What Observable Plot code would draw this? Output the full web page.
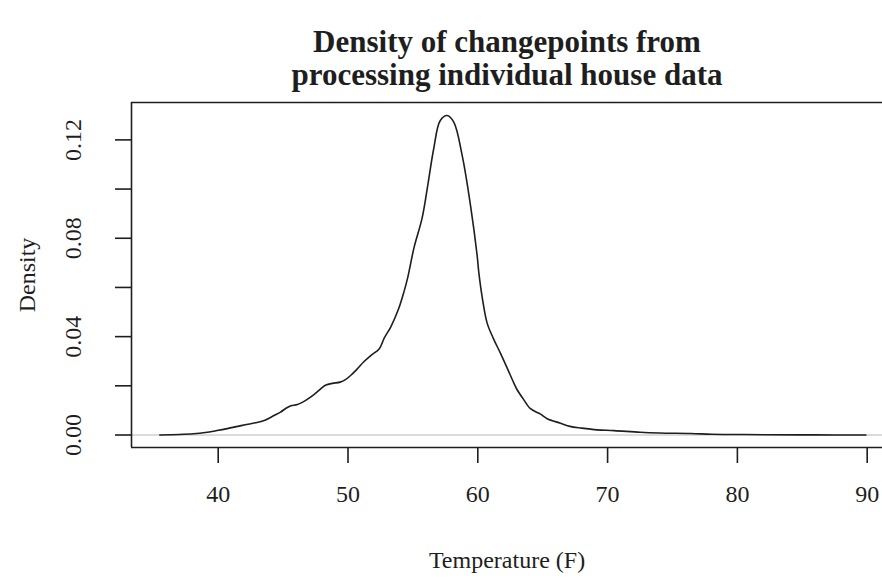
<!DOCTYPE html>
<html>
<head>
<meta charset="utf-8">
<script src="https://cdn.jsdelivr.net/npm/d3@7"></script>
<script src="https://cdn.jsdelivr.net/npm/@observablehq/plot@0.6"></script>
<style>
  html, body { margin: 0; padding: 0; background: #ffffff; }
  #chart svg { display: block; }
</style>
</head>
<body>
<div id="chart"></div>
<script>
// Density curve: temperature (F) and density
const temps = [35.5, 37.0, 38.1, 39.0, 39.9, 40.7, 41.5, 42.3, 43.0, 43.6, 44.3, 44.8, 45.2, 45.6, 46.1, 46.8, 47.4, 47.9, 48.3, 48.8, 49.4, 49.8, 50.2, 50.7, 51.2, 51.8, 52.4, 52.8, 53.3, 53.9, 54.3, 54.6, 55.1, 55.7, 56.1, 56.6, 57.1, 57.64, 58.15, 58.8, 59.44, 59.95, 60.08, 60.34, 60.72, 61.24, 61.75, 62.3, 62.77, 63.04, 63.5, 64.06, 64.83, 65.35, 66.37, 67.1, 68.0, 69.2, 70.5, 72.5, 74.0, 76.4, 78.0, 80.0, 82.3, 86.0, 89.9];
const densities = [0, 0.0002, 0.0005, 0.0010, 0.0018, 0.0026, 0.0035, 0.0044, 0.0051, 0.0060, 0.0079, 0.0093, 0.0108, 0.0119, 0.0124, 0.0143, 0.0165, 0.0188, 0.0203, 0.0210, 0.0215, 0.0225, 0.0242, 0.0268, 0.0297, 0.0325, 0.0350, 0.0395, 0.0440, 0.0513, 0.0580, 0.0640, 0.0765, 0.0880, 0.1000, 0.1163, 0.1278, 0.1299, 0.1272, 0.1136, 0.0933, 0.0730, 0.0660, 0.0560, 0.0455, 0.0388, 0.0332, 0.0268, 0.0212, 0.0183, 0.0147, 0.0107, 0.0085, 0.0066, 0.0048, 0.0035, 0.0028, 0.0021, 0.0018, 0.0011, 0.0008, 0.0006, 0.0003, 0.0002, 0.0001, 0.00005, 0];

const xTicks = [40, 50, 60, 70, 80, 90];
const yTicks = [0, 0.02, 0.04, 0.06, 0.08, 0.10, 0.12];
const yLabelValues = [0, 0.04, 0.08, 0.12];
const yLabelTexts = ["0.00", "0.04", "0.08", "0.12"];
const titleText = "Density of changepoints from\nprocessing individual house data";
const xTitle = "Temperature (F)";
const yTitle = "Density";

const xDomain = [33.32, 91.18];
const yDomain = [-0.00508, 0.1352];

const curve = temps.map((t, i) => ({t, d: densities[i]}));
const yLabels = yLabelValues.map((v, i) => ({v, s: yLabelTexts[i]}));

const ink = "#1e1e1e";

const chart = Plot.plot({
  width: 882,
  height: 578,
  marginTop: 102,
  marginBottom: 131,
  marginLeft: 131,
  marginRight: 0,
  style: {fontFamily: "'Liberation Serif', 'Times New Roman', serif", background: "#ffffff", color: ink},
  x: {domain: xDomain, axis: null},
  y: {domain: yDomain, axis: null},
  marks: [
    Plot.ruleY([0], {stroke: "#cfcfcf", strokeWidth: 1.5}),
    Plot.line(curve, {x: "t", y: "d", stroke: ink, strokeWidth: 1.6, curve: "catmull-rom"}),
    Plot.ruleY([yDomain[1]], {stroke: ink, strokeWidth: 1.6}),
    Plot.ruleY([yDomain[0]], {stroke: ink, strokeWidth: 1.6}),
    Plot.ruleX([xDomain[0]], {stroke: ink, strokeWidth: 1.6}),
    Plot.axisX({ticks: xTicks, tickSize: 16, tickPadding: 21, fontSize: 24, label: null, tickFormat: d => String(d), strokeWidth: 1.6}),
    Plot.axisY({ticks: yTicks, tickSize: 16, tickFormat: () => "", label: null, strokeWidth: 1.6}),
    Plot.text(yLabels, {y: "v", text: "s", frameAnchor: "left", dx: -58, rotate: -90, fontSize: 24, textAnchor: "middle", lineAnchor: "middle", fill: ink}),
    Plot.text([xTitle], {text: d => d, frameAnchor: "bottom", dy: 113, fontSize: 24, lineAnchor: "middle", fill: ink}),
    Plot.text([yTitle], {text: d => d, frameAnchor: "left", dx: -104, rotate: -90, fontSize: 24, textAnchor: "middle", lineAnchor: "middle", fill: ink}),
    Plot.text([titleText], {text: d => d, frameAnchor: "top", dy: -18, fontSize: 31, fontWeight: "bold", lineAnchor: "bottom", lineHeight: 1.04, fill: ink})
  ]
});

document.getElementById("chart").appendChild(chart);
</script>
</body>
</html>
